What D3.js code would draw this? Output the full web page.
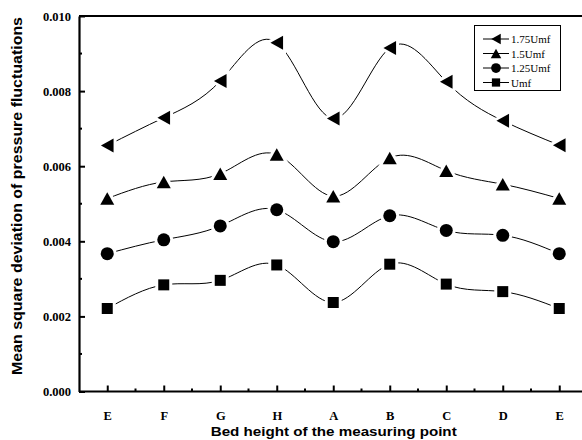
<!DOCTYPE html>
<html>
<head>
<meta charset="utf-8">
<script src="https://cdn.jsdelivr.net/npm/d3@7"></script>
<style>
  body { margin: 0; background: #fff; }
  svg { display: block; }
</style>
</head>
<body>
<div id="chart"></div>
<script>
// measuring points along the bed
const categories = ['E', 'F', 'G', 'H', 'A', 'B', 'C', 'D', 'E'];
const seriesNames = ['1.75Umf', '1.5Umf', '1.25Umf', 'Umf'];
const u175 = [0.00655, 0.00729, 0.00827, 0.00929, 0.00727, 0.00915, 0.00825, 0.00721, 0.00656];
const u150 = [0.00514, 0.00558, 0.00580, 0.00631, 0.00520, 0.00622, 0.00588, 0.00552, 0.00514];
const u125 = [0.00367, 0.00404, 0.00441, 0.00484, 0.00399, 0.00468, 0.00429, 0.00416, 0.00367];
const umf = [0.00221, 0.00284, 0.00296, 0.00337, 0.00237, 0.00339, 0.00286, 0.00266, 0.00221];
const yTicks = [0, 0.002, 0.004, 0.006, 0.008, 0.010];

const width = 582, height = 440;
const plotLeft = 79, plotTop = 16, plotBottom = 391.5, step = 56.5;

const svg = d3.select('#chart').append('svg')
    .attr('width', width)
    .attr('height', height);

const x = d3.scaleLinear().domain([-0.5, 8.5]).range([plotLeft, plotLeft + 9 * step]);
const y = d3.scaleLinear().domain([0, 0.010]).range([plotBottom, plotTop]);

// frame: top border (right side is cut off in the original)
svg.append('line')
    .attr('x1', plotLeft).attr('x2', width)
    .attr('y1', plotTop).attr('y2', plotTop)
    .attr('stroke', '#000').attr('stroke-width', 2);

// x axis
const xAxis = d3.axisBottom(x)
    .tickValues(d3.range(categories.length))
    .tickFormat(i => categories[i])
    .tickSizeInner(-6).tickSizeOuter(0).tickPadding(19.5);
const gx = svg.append('g').attr('transform', `translate(0,${plotBottom})`).call(xAxis);
gx.select('.domain').attr('stroke-width', 2.2).attr('d', `M${plotLeft},0H${width}`);
gx.selectAll('.tick line').attr('stroke-width', 2);
gx.selectAll('.tick text')
    .attr('font-family', '"Liberation Serif", serif')
    .attr('font-weight', 'bold')
    .attr('font-size', 12.5);
svg.append('g').selectAll('line')
    .data(d3.range(categories.length + 1).map(i => i - 0.5).slice(1))
    .join('line')
    .attr('x1', d => x(d)).attr('x2', d => x(d))
    .attr('y1', plotBottom).attr('y2', plotBottom - 3)
    .attr('stroke', '#000').attr('stroke-width', 2);

// y axis
const yAxis = d3.axisLeft(y)
    .tickValues(yTicks)
    .tickFormat(d3.format('.3f'))
    .tickSizeInner(-6).tickSizeOuter(0).tickPadding(8);
const gy = svg.append('g').attr('transform', `translate(${plotLeft},0)`).call(yAxis);
gy.select('.domain').attr('stroke-width', 2.2);
gy.selectAll('.tick line').attr('stroke-width', 2);
gy.selectAll('.tick text')
    .attr('font-family', '"Liberation Serif", serif')
    .attr('font-weight', 'bold')
    .attr('font-size', 12.5);
svg.append('g').selectAll('line')
    .data([0.001, 0.003, 0.005, 0.007, 0.009])
    .join('line')
    .attr('x1', plotLeft).attr('x2', plotLeft + 3)
    .attr('y1', d => y(d)).attr('y2', d => y(d))
    .attr('stroke', '#000').attr('stroke-width', 2);

// axis titles (the original is slightly stretched, so fix the lengths)
svg.append('text')
    .attr('x', 333.7).attr('y', 436)
    .attr('text-anchor', 'middle')
    .attr('font-family', '"Liberation Sans", Arial, sans-serif')
    .attr('font-weight', 'bold')
    .attr('font-size', 13.5)
    .attr('textLength', 246)
    .attr('lengthAdjust', 'spacingAndGlyphs')
    .text('Bed height of the measuring point');
svg.append('text')
    .attr('transform', 'translate(22,196) rotate(-90)')
    .attr('text-anchor', 'middle')
    .attr('font-family', '"Liberation Sans", Arial, sans-serif')
    .attr('font-weight', 'bold')
    .attr('font-size', 14)
    .attr('textLength', 358)
    .attr('lengthAdjust', 'spacingAndGlyphs')
    .text('Mean square deviation of pressure fluctuations');

// marker shapes
const leftTri = s => `M${-s * 0.45},0L${s * 0.45},${-s / 2}L${s * 0.45},${s / 2}Z`;
const upTri = s => `M0,${-s * 0.45}L${s / 2},${s * 0.45}L${-s / 2},${s * 0.45}Z`;
const circle = s => d3.symbol(d3.symbolCircle, Math.PI * (s / 2) * (s / 2))();
const square = s => `M${-s / 2},${-s / 2}h${s}v${s}h${-s}Z`;

const series = [
    { name: seriesNames[0], values: u175, shape: leftTri, size: 14 },
    { name: seriesNames[1], values: u150, shape: upTri, size: 14 },
    { name: seriesNames[2], values: u125, shape: circle, size: 13 },
    { name: seriesNames[3], values: umf, shape: square, size: 11 },
];

const line = d3.line()
    .x((d, i) => x(i))
    .y(d => y(d))
    .curve(d3.curveNatural);

series.forEach(s => {
    svg.append('path')
        .attr('d', line(s.values))
        .attr('fill', 'none')
        .attr('stroke', '#000')
        .attr('stroke-width', 1);
    svg.append('g').selectAll('path')
        .data(s.values)
        .join('path')
        .attr('d', s.shape(s.size))
        .attr('transform', (d, i) => `translate(${x(i)},${y(d)})`)
        .attr('fill', '#000')
        .attr('stroke', '#fff')
        .attr('stroke-width', 6)
        .attr('paint-order', 'stroke');
});

// legend
const legend = svg.append('g');
legend.append('rect')
    .attr('x', 474.5).attr('y', 25.5)
    .attr('width', 86).attr('height', 65)
    .attr('fill', '#fff').attr('stroke', '#000').attr('stroke-width', 1);
series.forEach((s, i) => {
    const ly = 39 + i * 14.5;
    legend.append('line')
        .attr('x1', 483).attr('x2', 509)
        .attr('y1', ly).attr('y2', ly)
        .attr('stroke', '#000').attr('stroke-width', 1);
    legend.append('path')
        .attr('d', s.shape(s.size * 0.75))
        .attr('transform', `translate(496,${ly})`)
        .attr('fill', '#000');
    legend.append('text')
        .attr('x', 511).attr('y', ly + 4)
        .attr('font-family', '"Liberation Serif", serif')
        .attr('font-size', 11)
        .text(s.name);
});
</script>
</body>
</html>
